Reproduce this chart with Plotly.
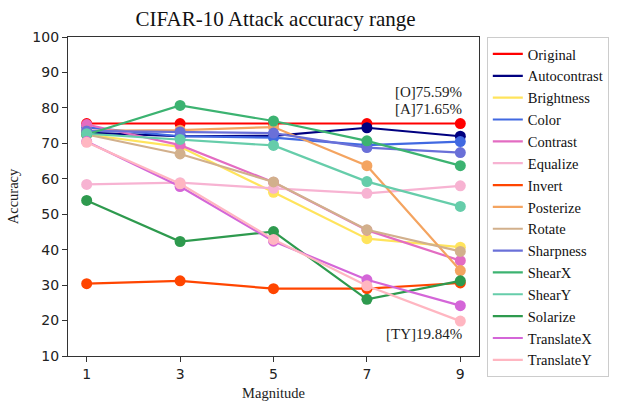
import plotly.graph_objects as go

magnitudes = [1, 3, 5, 7, 9]

names = ["Original", "Autocontrast", "Brightness", "Color", "Contrast", "Equalize",
         "Invert", "Posterize", "Rotate", "Sharpness", "ShearX", "ShearY",
         "Solarize", "TranslateX", "TranslateY"]

original = [75.59, 75.59, 75.59, 75.59, 75.59]
autocontrast = [73.0, 72.0, 72.1, 74.4, 72.0]
brightness = [72.5, 69.0, 56.2, 43.1, 40.7]
color = [74.5, 72.0, 71.6, 69.5, 70.5]
contrast = [75.3, 69.5, 59.0, 45.5, 36.9]
equalize = [58.4, 58.9, 57.3, 55.9, 58.0]
invert = [30.4, 31.2, 29.0, 29.0, 30.6]
posterize = [73.5, 73.7, 74.6, 63.7, 34.1]
rotate = [72.5, 67.0, 59.1, 45.6, 39.5]
sharpness = [73.5, 73.2, 72.9, 68.8, 67.4]
shearx = [72.5, 80.7, 76.3, 70.7, 63.7]
sheary = [72.7, 71.1, 69.4, 59.2, 52.2]
solarize = [53.9, 42.3, 45.1, 26.0, 31.2]
translatex = [70.5, 57.8, 42.4, 31.5, 24.2]
translatey = [70.3, 58.6, 42.9, 29.8, 19.84]

series = [original, autocontrast, brightness, color, contrast, equalize, invert,
          posterize, rotate, sharpness, shearx, sheary, solarize, translatex, translatey]

colors = ["#ff0000", "#000080", "#ffe45c", "#4169e1", "#e36cc2", "#f7b3d2",
          "#ff4500", "#f4a460", "#d2b08c", "#6a70d8", "#3cb371", "#66cdaa",
          "#2e9a4e", "#d466d8", "#ffb6c1"]

ann_text = ["[O]75.59%", "[A]71.65%", "[TY]19.84%"]
ann_y = [84.6, 79.6, 16.3]

serif = "Liberation Serif, Times New Roman, serif"
sans = "DejaVu Sans, sans-serif"

fig = go.Figure()
for name, vals, c in zip(names, series, colors):
    fig.add_trace(go.Scatter(x=magnitudes, y=vals, mode="lines", name=name,
                             line=dict(color=c, width=2.2), legendgroup=name))
    fig.add_trace(go.Scatter(x=magnitudes, y=vals, mode="markers", name=name,
                             marker=dict(color=c, size=11), showlegend=False,
                             legendgroup=name))

for t, yv in zip(ann_text, ann_y):
    fig.add_annotation(x=9, y=yv, xref="x", yref="y", text=t, showarrow=False,
                       xanchor="right", yanchor="middle", xshift=4,
                       font=dict(family=serif, size=15, color="#222"))

axis_common = dict(showline=True, linecolor="#333", linewidth=1.3, mirror=True,
                   ticks="outside", ticklen=5, tickcolor="#333", showgrid=False,
                   zeroline=False, tickfont=dict(family=sans, size=14, color="#222"))

fig.update_layout(
    width=621, height=410,
    margin=dict(l=68, r=138, t=37, b=46),
    paper_bgcolor="white", plot_bgcolor="white",
    title=dict(text="CIFAR-10 Attack accuracy range", x=(68 + 207.5) / 621,
               xanchor="center", y=0.955, yanchor="middle",
               font=dict(family=serif, size=21, color="#111")),
    xaxis=dict(range=[0.6, 9.4], tickvals=magnitudes,
               title=dict(text="Magnitude", font=dict(family=serif, size=14.5, color="#222"),
                          standoff=6),
               **axis_common),
    yaxis=dict(range=[10, 100], tickvals=[10, 20, 30, 40, 50, 60, 70, 80, 90, 100],
               title=dict(text="Accuracy", font=dict(family=serif, size=14.5, color="#222"),
                          standoff=10),
               **axis_common),
    legend=dict(x=1.019, y=1.0, xanchor="left", yanchor="top",
                bordercolor="#cccccc", borderwidth=1, bgcolor="white",
                font=dict(family=serif, size=14.5, color="#111"),
                tracegroupgap=0, maxheight=400),
    showlegend=True,
)

fig.write_html("out.html")
